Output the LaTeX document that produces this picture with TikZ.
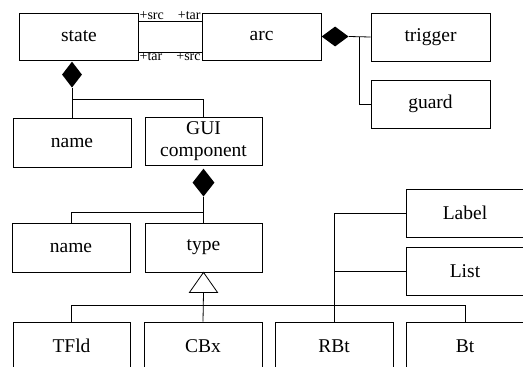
\documentclass[tikz,border=0pt]{standalone}
\usepackage{fontspec}
\setmainfont{Liberation Serif}
\usetikzlibrary{shapes.geometric,calc}
\begin{document}
\begin{tikzpicture}[x=1pt,y=-1pt,
  box/.style={draw, line width=0.8pt, minimum width=118pt, minimum height=48pt, inner sep=0pt, align=center, font=\fontsize{19.5}{21.5}\selectfont},
  conn/.style={line width=0.8pt},
  role/.style={font=\fontsize{14}{15}\selectfont, inner sep=0.8pt},
  comp/.style={diamond, fill=black, inner sep=0pt}]
\useasboundingbox (0,0) rectangle (523,367);
\clip (0,0) rectangle (523,367);
% boxes
\node[box, minimum width=118.5pt, minimum height=47pt] (state) at (79,36.5) {state};
\node[box, minimum width=119pt, minimum height=47pt] (arc) at (261.5,36.5) {arc};
\node[box, minimum width=119pt] (trigger) at (430.5,37) {trigger};
\node[box, minimum width=119pt] (guard) at (430.5,104) {guard};
\node[box, minimum height=49pt] (name1) at (72,142.5) {name};
\node[box, minimum width=117pt] (gui) at (203.5,141) {GUI\\component};
\node[box, minimum height=49pt] (name2) at (71,247.5) {name};
\node[box, minimum width=117pt, minimum height=49pt] (type) at (203.5,247.5) {type};
\node[box] (label) at (465,213) {Label};
\node[box] (list) at (465,271) {List};
\node[box, minimum width=117pt] (tfld) at (71.5,346) {TFld};
\node[box] (cbx) at (203,346) {CBx};
\node[box] (rbt) at (334,346) {RBt};
\node[box] (bt) at (465,346) {Bt};
% state -- arc associations
\draw[conn] ([yshift=15.5pt]state.east) -- ([yshift=15.5pt]arc.west);
\draw[conn] ([yshift=-15.5pt]state.east) -- ([yshift=-15.5pt]arc.west);
\node[role, anchor=south west] (r1) at ([yshift=15.5pt]state.east) {+src};
\node[role, anchor=south east] (r2) at ([yshift=15.5pt]arc.west) {+tar};
\node[role, anchor=north west] (r3) at ([yshift=-15.5pt]state.east) {+tar};
\node[role, anchor=north east] (r4) at ([yshift=-15.5pt]arc.west) {+src};
% arc composition
\node[comp, minimum width=27pt, minimum height=20pt, anchor=west] (d1) at (arc.east) {};
\draw[conn] (d1.east) -- (trigger.west);
\coordinate (j1) at ($(d1.east)!0.5!(trigger.west)$);
\draw[conn] (j1) |- (guard.west);
% state composition
\node[comp, minimum width=20pt, minimum height=26pt, anchor=north] (d2) at ([xshift=-7pt,yshift=-1pt]state.south) {};
\draw[conn] (d2.south) -- (name1.north);
\coordinate (j2) at ($(d2.south)!0.375!(name1.north)$);
\draw[conn] (j2) -| (gui.north);
% GUI composition
\node[comp, minimum width=22pt, minimum height=28pt, anchor=north] (d3) at ([yshift=-3pt]gui.south) {};
\draw[conn] (d3.south) -- (type.north);
\coordinate (j3) at ($(d3.south)!0.59!(type.north)$);
\draw[conn] (j3) -| (name2.north);
% inheritance
\coordinate (tapex) at (type.south);
\coordinate (tbase) at ($(tapex)+(0,20)$);
\draw[conn] (tbase) -- (cbx.north);
\draw[conn] (tfld.north) -- ++(0,-16) -| (bt.north);
\draw[conn, fill=white] (tapex) -- ++(-14,20) -- ++(28,0) -- cycle;
% right side
\draw[conn] (rbt.north) |- (label.west);
\draw[conn] (rbt.north |- list.west) -- (list.west);
\end{tikzpicture}
\end{document}
